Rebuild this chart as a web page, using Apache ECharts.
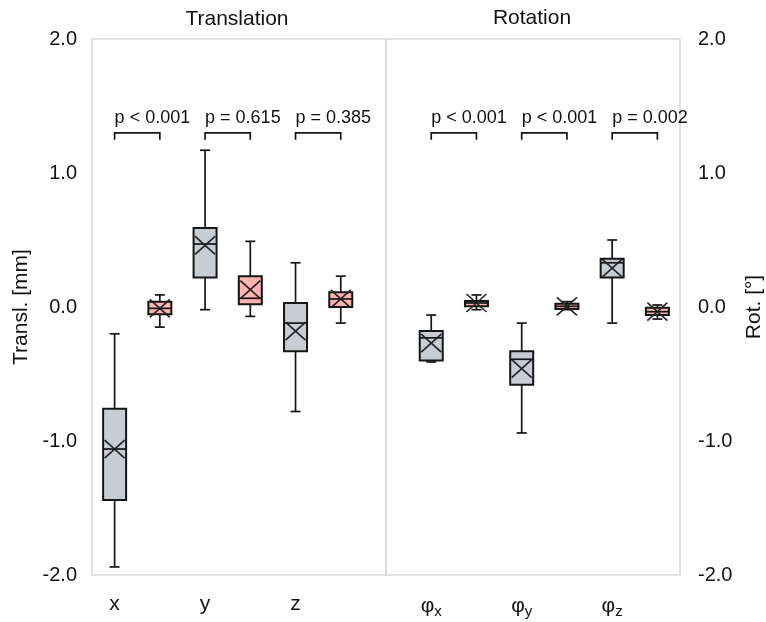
<!DOCTYPE html>
<html>
<head>
<meta charset="utf-8">
<script src="https://cdn.jsdelivr.net/npm/echarts@6/dist/echarts.min.js"></script>
<style>
html, body { margin: 0; padding: 0; background: #fff; overflow: hidden; }
#chart { width: 766px; height: 622px; }
</style>
</head>
<body>
<div id="chart"></div>
<script>
// slot 6 is the empty gap between the two panels
var slots = ['x', 'x2', 'y', 'y2', 'z', 'z2', 'gap', 'phx', 'phx2', 'phy', 'phy2', 'phz', 'phz2'];
var tickLabels = ['x', '', 'y', '', 'z', '', '', '{f|φ}{s|x}', '', '{f|φ}{s|y}', '', '{f|φ}{s|z}', ''];

// [min, q1, median, q3, max]
var graySlots = [0, 2, 4, 7, 9, 11];
var grayStats = [
    [-1.94, -1.44, -1.06, -0.76, -0.20],
    [-0.02, 0.22, 0.47, 0.59, 1.17],
    [-0.78, -0.33, -0.12, 0.03, 0.33],
    [-0.41, -0.40, -0.23, -0.18, -0.06],
    [-0.94, -0.58, -0.39, -0.33, -0.12],
    [-0.12, 0.22, 0.33, 0.36, 0.50]
];
var grayMeans = [-1.06, 0.46, -0.18, -0.27, -0.46, 0.29];

var pinkSlots = [1, 3, 5, 8, 10, 12];
var pinkStats = [
    [-0.15, -0.055, -0.01, 0.04, 0.09],
    [-0.07, 0.02, 0.065, 0.23, 0.49],
    [-0.12, 0.0, 0.06, 0.11, 0.23],
    [-0.02, 0.005, 0.03, 0.045, 0.09],
    [-0.02, -0.015, 0.005, 0.025, 0.04],
    [-0.09, -0.06, -0.035, -0.005, 0.015]
];
var pinkMeans = [-0.01, 0.13, 0.06, 0.03, 0.005, -0.035];

var pLabels = ['p < 0.001', 'p = 0.615', 'p = 0.385', 'p < 0.001', 'p < 0.001', 'p = 0.002'];
var pLevel = 1.3;

var FONT = "'Liberation Sans', Arial, sans-serif";

function boxData(slotsIdx, stats, means) {
    var out = [];
    for (var i = 0; i < slotsIdx.length; i++) {
        out.push([slotsIdx[i]].concat(stats[i]).concat([means[i]]));
    }
    return out;
}

function makeRender(fill) {
    return function (params, api) {
        var x = api.value(0);
        var lo = api.coord([x, api.value(1)]);
        var q1 = api.coord([x, api.value(2)]);
        var md = api.coord([x, api.value(3)]);
        var q3 = api.coord([x, api.value(4)]);
        var hi = api.coord([x, api.value(5)]);
        var mn = api.coord([x, api.value(6)]);
        var cx = lo[0];
        var bw = 23, cap = 5, mx = 10, my = 9;
        var st = { stroke: '#151515', lineWidth: 1.7, fill: null };
        return {
            type: 'group',
            children: [
                { type: 'line', shape: { x1: cx, y1: hi[1], x2: cx, y2: lo[1] }, style: st },
                { type: 'line', shape: { x1: cx - cap, y1: hi[1], x2: cx + cap, y2: hi[1] }, style: st },
                { type: 'line', shape: { x1: cx - cap, y1: lo[1], x2: cx + cap, y2: lo[1] }, style: st },
                { type: 'rect', shape: { x: cx - bw / 2, y: q3[1], width: bw, height: q1[1] - q3[1] },
                  style: { fill: fill, stroke: '#151515', lineWidth: 2 } },
                { type: 'line', shape: { x1: cx - bw / 2, y1: md[1], x2: cx + bw / 2, y2: md[1] }, style: st },
                { type: 'line', shape: { x1: cx - mx, y1: mn[1] - my, x2: cx + mx, y2: mn[1] + my }, style: { stroke: '#222', lineWidth: 1.6 } },
                { type: 'line', shape: { x1: cx - mx, y1: mn[1] + my, x2: cx + mx, y2: mn[1] - my }, style: { stroke: '#222', lineWidth: 1.6 } }
            ]
        };
    };
}

var bracketData = [];
for (var i = 0; i < graySlots.length; i++) {
    bracketData.push([graySlots[i], pinkSlots[i], pLevel]);
}

var chart = echarts.init(document.getElementById('chart'), null, { width: 766, height: 622 });
chart.setOption({
    animation: false,
    textStyle: { fontFamily: FONT },
    title: [
        { text: 'Translation', left: 237, top: 9, textAlign: 'center', padding: 0,
          textStyle: { fontFamily: FONT, fontSize: 21, fontWeight: 'normal', color: '#111' } },
        { text: 'Rotation', left: 532, top: 8, textAlign: 'center', padding: 0,
          textStyle: { fontFamily: FONT, fontSize: 21, fontWeight: 'normal', color: '#111' } }
    ],
    grid: { left: 92, right: 86, top: 39, bottom: 47, containLabel: false, outerBoundsMode: 'none',
            show: true, borderColor: '#d9d9d9', borderWidth: 1.5 },
    xAxis: {
        type: 'category',
        data: slots,
        axisLine: { show: false },
        axisTick: { show: false },
        splitLine: { show: false },
        axisLabel: {
            interval: 0,
            margin: 19,
            color: '#111',
            fontSize: 21,
            formatter: function (v, idx) { return tickLabels[idx]; },
            rich: {
                f: { fontSize: 21, color: '#111', fontFamily: FONT },
                s: { fontSize: 15, color: '#111', fontFamily: FONT, padding: [10, 0, 0, 0] }
            }
        }
    },
    yAxis: [
        {
            type: 'value', min: -2, max: 2, interval: 1, position: 'left',
            splitLine: { show: false }, axisLine: { show: false }, axisTick: { show: false },
            axisLabel: { fontSize: 20, color: '#111', margin: 15,
                         formatter: function (v) { return v.toFixed(1); } },
            name: 'Transl. [mm]', nameLocation: 'middle', nameRotate: 90, nameGap: 60,
            nameTextStyle: { fontSize: 21, color: '#111', fontFamily: FONT }
        },
        {
            type: 'value', min: -2, max: 2, interval: 1, position: 'right',
            splitLine: { show: false }, axisLine: { show: false }, axisTick: { show: false },
            axisLabel: { fontSize: 20, color: '#111', margin: 18,
                         formatter: function (v) { return v.toFixed(1); } },
            name: 'Rot. [°]', nameLocation: 'middle', nameRotate: 90, nameGap: 62,
            nameTextStyle: { fontSize: 21, color: '#111', fontFamily: FONT }
        }
    ],
    series: [
        {
            type: 'custom',
            name: 'gray',
            renderItem: makeRender('#c8ccd3'),
            data: boxData(graySlots, grayStats, grayMeans),
            markLine: {
                silent: true, symbol: 'none', label: { show: false },
                lineStyle: { color: '#cfcfcf', width: 1.5, type: 'solid' },
                data: [{ xAxis: 6 }]
            },
            z: 3
        },
        {
            type: 'custom',
            name: 'pink',
            renderItem: makeRender('#ffb3b3'),
            data: boxData(pinkSlots, pinkStats, pinkMeans),
            z: 3
        },
        {
            type: 'custom',
            name: 'p',
            renderItem: function (params, api) {
                var a = api.coord([api.value(0), api.value(2)]);
                var b = api.coord([api.value(1), api.value(2)]);
                var leg = 7;
                return {
                    type: 'group',
                    children: [
                        { type: 'polyline',
                          shape: { points: [[a[0], a[1] + leg], [a[0], a[1]], [b[0], a[1]], [b[0], a[1] + leg]] },
                          style: { stroke: '#151515', lineWidth: 1.7, fill: null } },
                        { type: 'text',
                          style: { x: a[0], y: a[1] - 15, text: pLabels[params.dataIndex],
                                   font: '18px ' + FONT, fill: '#111',
                                   textAlign: 'left', textVerticalAlign: 'middle' } }
                    ]
                };
            },
            data: bracketData,
            z: 4
        }
    ]
});
</script>
</body>
</html>
